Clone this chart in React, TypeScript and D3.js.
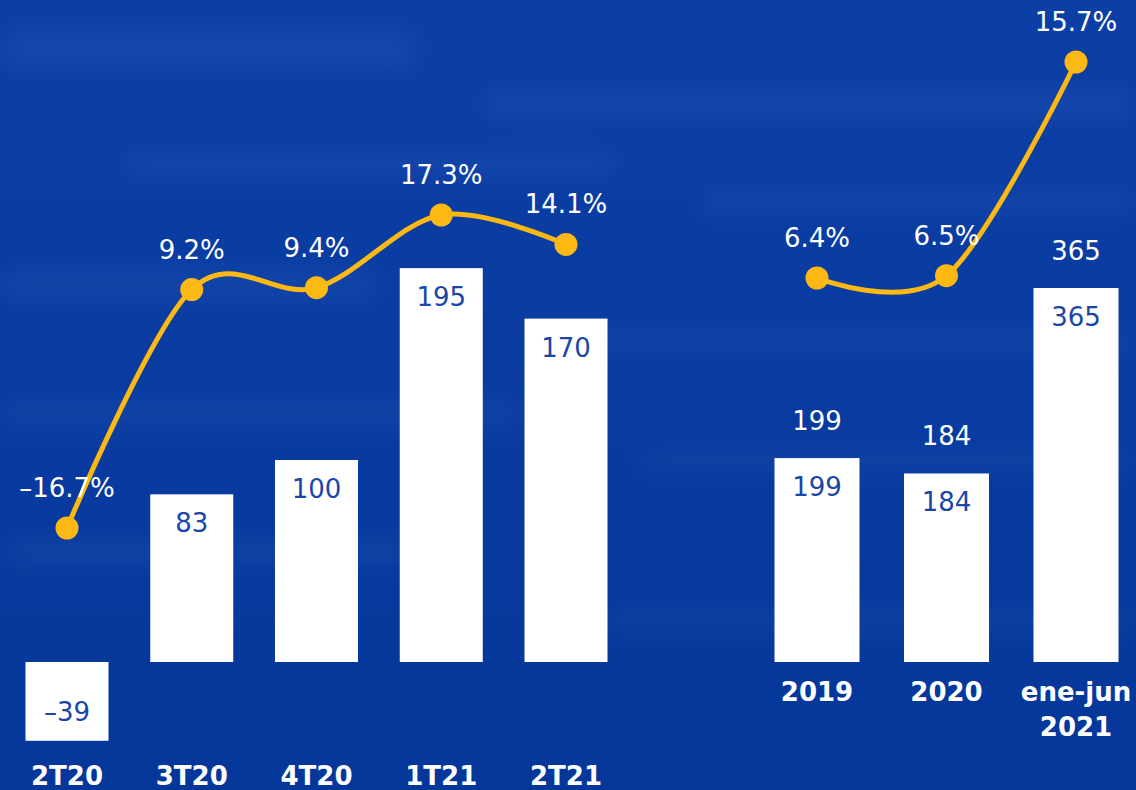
import React from "react";
import * as d3 from "d3";

const quarters = ["2T20", "3T20", "4T20", "1T21", "2T21"];
const quarterValues = [-39, 83, 100, 195, 170];
const quarterMargins = [-16.7, 9.2, 9.4, 17.3, 14.1];

const years = ["2019", "2020", "ene-jun|2021"];
const yearValues = [199, 184, 365];
const yearMargins = [6.4, 6.5, 15.7];

const W = 1136;
const H = 790;
const BASE = 662;
const BLUE_TEXT = "#1a46a8";
const LINE = "#fcb813";
const FONT = "'DejaVu Sans', sans-serif";

export default function App() {
  const xL = d3.scalePoint<string>().domain(quarters).range([67, 566]);
  const xR = d3.scalePoint<string>().domain(years).range([817, 1076]);
  const yL = d3.scaleLinear().domain([0, 100]).range([BASE, 460]);
  const yR = d3.scaleLinear().domain([0, 365]).range([BASE, 288]);
  const mL = d3.scaleLinear().domain([-16.7, 17.3]).range([528, 215]);
  const mR = d3.scaleLinear().domain([6.4, 15.7]).range([278, 62]);
  const bwL = 83;
  const bwR = 85;

  const lineL = d3
    .line<number>()
    .x((_, i) => xL(quarters[i])!)
    .y((d) => mL(d))
    .curve(d3.curveCardinal.tension(0));
  const lineR = d3
    .line<number>()
    .x((_, i) => xR(years[i])!)
    .y((d) => mR(d))
    .curve(d3.curveCardinal.tension(0));

  const fmtPct = (v: number) => (v < 0 ? "\u2013" : "") + Math.abs(v).toFixed(1) + "%";
  const fmtVal = (v: number) => (v < 0 ? "\u2013" : "") + Math.abs(v);

  // decorative background texture (soft rebar-like highlights)
  const texture = [
    { x: 0, y: 30, w: 420, h: 40 },
    { x: 480, y: 90, w: 656, h: 30 },
    { x: 120, y: 150, w: 500, h: 26 },
    { x: 700, y: 190, w: 436, h: 22 },
    { x: 0, y: 270, w: 380, h: 30 },
    { x: 560, y: 330, w: 576, h: 22 },
    { x: 0, y: 400, w: 520, h: 26 },
    { x: 640, y: 450, w: 496, h: 20 },
    { x: 0, y: 540, w: 460, h: 24 },
    { x: 600, y: 610, w: 536, h: 20 },
  ];

  return (
    <svg
      width={W}
      height={H}
      style={{ position: "fixed", left: 0, top: 0, display: "block" }}
      fontFamily={FONT}
    >
      <defs>
        <linearGradient id="bg" x1="0" y1="0" x2="0" y2="1">
          <stop offset="0" stopColor="#0c3fa6" />
          <stop offset="1" stopColor="#05379a" />
        </linearGradient>
        <filter id="blur" x="-10%" y="-100%" width="120%" height="300%">
          <feGaussianBlur stdDeviation="12" />
        </filter>
      </defs>
      <rect width={W} height={H} fill="url(#bg)" />
      <g filter="url(#blur)" opacity={0.12}>
        {texture.map((t, i) => (
          <rect key={i} x={t.x} y={t.y} width={t.w} height={t.h} rx={t.h / 2} fill="#5a86da" />
        ))}
      </g>

      {/* Left bars */}
      {quarterValues.map((v, i) => {
        const x = xL(quarters[i])!;
        const y0 = yL(Math.max(0, v));
        const y1 = yL(Math.min(0, v));
        return (
          <g key={quarters[i]}>
            <rect x={x - bwL / 2} y={y0} width={bwL} height={y1 - y0} fill="#ffffff" />
            <text
              x={x}
              y={v < 0 ? y1 - 20 : y0 + 38}
              textAnchor="middle"
              fontSize={26}
              fill={BLUE_TEXT}
            >
              {fmtVal(v)}
            </text>
            <text
              x={x}
              y={785}
              textAnchor="middle"
              fontSize={26}
              fontWeight="bold"
              fill="#ffffff"
            >
              {quarters[i]}
            </text>
          </g>
        );
      })}

      {/* Right bars */}
      {yearValues.map((v, i) => {
        const x = xR(years[i])!;
        const y0 = yR(v);
        const parts = years[i].split("|");
        return (
          <g key={years[i]}>
            <rect x={x - bwR / 2} y={y0} width={bwR} height={BASE - y0} fill="#ffffff" />
            <text x={x} y={y0 + 38} textAnchor="middle" fontSize={26} fill={BLUE_TEXT}>
              {fmtVal(v)}
            </text>
            <text x={x} y={y0 - 28} textAnchor="middle" fontSize={26} fill="#ffffff">
              {fmtVal(v)}
            </text>
            {parts.map((p, j) => (
              <text
                key={j}
                x={x}
                y={701 + j * 35}
                textAnchor="middle"
                fontSize={26}
                fontWeight="bold"
                fill="#ffffff"
              >
                {p}
              </text>
            ))}
          </g>
        );
      })}

      {/* Lines */}
      <path d={lineL(quarterMargins)!} fill="none" stroke={LINE} strokeWidth={5} />
      <path d={lineR(yearMargins)!} fill="none" stroke={LINE} strokeWidth={5} />

      {quarterMargins.map((v, i) => (
        <g key={"ml" + i}>
          <circle cx={xL(quarters[i])!} cy={mL(v)} r={11.5} fill={LINE} />
          <text
            x={xL(quarters[i])!}
            y={mL(v) - 31}
            textAnchor="middle"
            fontSize={26}
            fill="#ffffff"
          >
            {fmtPct(v)}
          </text>
        </g>
      ))}
      {yearMargins.map((v, i) => (
        <g key={"mr" + i}>
          <circle cx={xR(years[i])!} cy={mR(v)} r={11.5} fill={LINE} />
          <text
            x={xR(years[i])!}
            y={mR(v) - 31}
            textAnchor="middle"
            fontSize={26}
            fill="#ffffff"
          >
            {fmtPct(v)}
          </text>
        </g>
      ))}
    </svg>
  );
}
